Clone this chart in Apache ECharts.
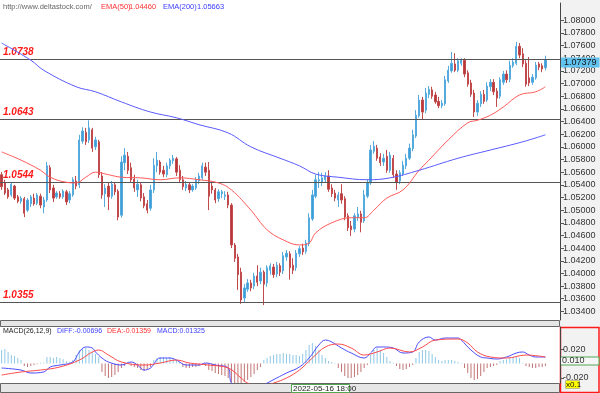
<!DOCTYPE html>
<html>
<head>
<meta charset="utf-8">
<script src="https://cdn.jsdelivr.net/npm/echarts@6/dist/echarts.min.js"></script>
<style>
html,body{margin:0;padding:0;background:#fff;}
#c{width:600px;height:393px;}
</style>
</head>
<body>
<div id="c"></div>
<script>
// ---------------- DATA ----------------
const slotCount = 173; // category slots (169 candles + empty right margin)
const opens = [
1.0556,1.0543,1.0532,1.0524,1.0538,1.0521,1.0514,1.0518,1.0500,1.0510,
1.0519,1.0511,1.0522,1.0505,1.0516,1.0567,1.0535,1.0521,1.0526,1.0521,
1.0529,1.0516,1.0524,1.0546,1.0540,1.0609,1.0623,1.0611,1.0627,1.0600,
1.0608,1.0554,1.0526,1.0538,1.0522,1.0540,1.0530,1.0492,1.0575,1.0585,
1.0567,1.0549,1.0532,1.0540,1.0521,1.0510,1.0503,1.0532,1.0570,1.0576,
1.0563,1.0556,1.0570,1.0578,1.0581,1.0563,1.0548,1.0535,1.0540,1.0532,
1.0535,1.0546,1.0551,1.0568,1.0563,1.0538,1.0532,1.0518,1.0526,1.0522,
1.0524,1.0508,1.0445,1.0426,1.0402,1.0361,1.0375,1.0385,1.0380,1.0396,
1.0388,1.0402,1.0385,1.0405,1.0410,1.0399,1.0412,1.0404,1.0426,1.0431,
1.0413,1.0409,1.0431,1.0440,1.0435,1.0447,1.0486,1.0522,1.0546,1.0544,
1.0548,1.0554,1.0535,1.0527,1.0516,1.0526,1.0518,1.0491,1.0475,1.0470,
1.0488,1.0494,1.0483,1.0522,1.0543,1.0593,1.0598,1.0584,1.0576,1.0585,
1.0563,1.0582,1.0557,1.0546,1.0557,1.0570,1.0582,1.0597,1.0617,1.0649,
1.0674,1.0658,1.0683,1.0690,1.0682,1.0672,1.0665,1.0668,1.0704,1.0720,
1.0731,1.0721,1.0732,1.0737,1.0717,1.0701,1.0685,1.0655,1.0668,1.0683,
1.0674,1.0695,1.0702,1.0688,1.0680,1.0702,1.0715,1.0707,1.0728,1.0732,
1.0759,1.0747,1.0732,1.0709,1.0702,1.0709,1.0731,1.0728,1.0725];
const closes = [
1.0537,1.0527,1.0521,1.0541,1.0519,1.0514,1.0519,1.0495,1.0516,1.0521,
1.0510,1.0524,1.0508,1.0516,1.0570,1.0532,1.0519,1.0527,1.0521,1.0530,
1.0513,1.0526,1.0548,1.0538,1.0611,1.0625,1.0608,1.0630,1.0598,1.0611,
1.0556,1.0524,1.0535,1.0521,1.0541,1.0529,1.0489,1.0576,1.0587,1.0563,
1.0548,1.0535,1.0541,1.0519,1.0507,1.0500,1.0532,1.0571,1.0579,1.0560,
1.0557,1.0570,1.0579,1.0582,1.0560,1.0548,1.0537,1.0541,1.0532,1.0538,
1.0548,1.0554,1.0570,1.0560,1.0522,1.0532,1.0516,1.0529,1.0529,1.0524,
1.0508,1.0445,1.0424,1.0398,1.0358,1.0377,1.0385,1.0377,1.0396,1.0386,
1.0402,1.0383,1.0409,1.0412,1.0398,1.0413,1.0402,1.0428,1.0432,1.0409,
1.0405,1.0432,1.0439,1.0434,1.0448,1.0488,1.0524,1.0548,1.0548,1.0551,
1.0554,1.0533,1.0526,1.0519,1.0524,1.0516,1.0489,1.0472,1.0469,1.0491,
1.0494,1.0481,1.0524,1.0544,1.0595,1.0601,1.0582,1.0575,1.0582,1.0563,
1.0587,1.0556,1.0544,1.0559,1.0571,1.0582,1.0598,1.0619,1.0650,1.0674,
1.0655,1.0685,1.0691,1.0680,1.0671,1.0665,1.0669,1.0706,1.0721,1.0732,
1.0721,1.0736,1.0737,1.0715,1.0699,1.0683,1.0655,1.0669,1.0683,1.0672,
1.0696,1.0702,1.0687,1.0677,1.0706,1.0715,1.0706,1.0729,1.0734,1.0759,
1.0745,1.0731,1.0699,1.0701,1.0710,1.0729,1.0726,1.0723,1.07379];
const lows = [
1.0532,1.0524,1.0518,1.0521,1.0516,1.0511,1.0510,1.0489,1.0497,1.0505,
1.0507,1.0508,1.0503,1.0495,1.0513,1.0527,1.0513,1.0518,1.0518,1.0518,
1.0508,1.0511,1.0521,1.0533,1.0535,1.0605,1.0603,1.0606,1.0592,1.0595,
1.0551,1.0518,1.0505,1.0500,1.0518,1.0524,1.0484,1.0488,1.0563,1.0557,
1.0543,1.0529,1.0521,1.0514,1.0503,1.0495,1.0499,1.0527,1.0560,1.0556,
1.0552,1.0552,1.0565,1.0573,1.0554,1.0543,1.0532,1.0530,1.0527,1.0529,
1.0532,1.0541,1.0548,1.0554,1.0500,1.0526,1.0511,1.0513,1.0519,1.0516,
1.0503,1.0440,1.0418,1.0374,1.0352,1.0355,1.0371,1.0372,1.0375,1.0380,
1.0383,1.0350,1.0379,1.0398,1.0393,1.0394,1.0396,1.0399,1.0420,1.0390,
1.0399,1.0404,1.0426,1.0429,1.0431,1.0443,1.0483,1.0519,1.0535,1.0538,
1.0544,1.0529,1.0521,1.0514,1.0505,1.0510,1.0484,1.0467,1.0459,1.0465,
1.0483,1.0465,1.0480,1.0519,1.0540,1.0589,1.0578,1.0570,1.0570,1.0559,
1.0559,1.0551,1.0532,1.0541,1.0554,1.0565,1.0579,1.0593,1.0614,1.0646,
1.0644,1.0653,1.0677,1.0676,1.0668,1.0661,1.0661,1.0665,1.0701,1.0717,
1.0718,1.0718,1.0728,1.0710,1.0695,1.0679,1.0647,1.0649,1.0663,1.0668,
1.0671,1.0688,1.0682,1.0663,1.0676,1.0698,1.0701,1.0702,1.0725,1.0729,
1.0740,1.0726,1.0695,1.0696,1.0698,1.0706,1.0721,1.0718,1.0721];
const highs = [
1.0560,1.0548,1.0535,1.0544,1.0540,1.0524,1.0522,1.0521,1.0519,1.0524,
1.0526,1.0527,1.0526,1.0521,1.0576,1.0571,1.0540,1.0530,1.0530,1.0533,
1.0532,1.0530,1.0552,1.0554,1.0619,1.0631,1.0630,1.0642,1.0630,1.0616,
1.0611,1.0560,1.0541,1.0543,1.0546,1.0544,1.0533,1.0585,1.0598,1.0592,
1.0575,1.0556,1.0548,1.0543,1.0527,1.0516,1.0540,1.0582,1.0592,1.0579,
1.0570,1.0575,1.0582,1.0587,1.0584,1.0571,1.0554,1.0546,1.0544,1.0541,
1.0552,1.0559,1.0575,1.0575,1.0576,1.0544,1.0535,1.0533,1.0532,1.0530,
1.0529,1.0511,1.0448,1.0431,1.0409,1.0383,1.0391,1.0390,1.0401,1.0413,
1.0409,1.0405,1.0413,1.0416,1.0415,1.0418,1.0416,1.0434,1.0437,1.0435,
1.0424,1.0437,1.0443,1.0447,1.0453,1.0495,1.0532,1.0556,1.0560,1.0559,
1.0560,1.0563,1.0541,1.0532,1.0529,1.0541,1.0522,1.0495,1.0483,1.0495,
1.0505,1.0499,1.0532,1.0549,1.0603,1.0609,1.0603,1.0590,1.0589,1.0595,
1.0592,1.0587,1.0563,1.0563,1.0578,1.0589,1.0605,1.0627,1.0658,1.0682,
1.0679,1.0693,1.0696,1.0695,1.0687,1.0679,1.0674,1.0712,1.0728,1.0750,
1.0748,1.0740,1.0740,1.0740,1.0721,1.0706,1.0690,1.0674,1.0688,1.0690,
1.0702,1.0707,1.0707,1.0693,1.0710,1.0720,1.0721,1.0736,1.0740,1.0766,
1.0764,1.0756,1.0737,1.0742,1.0715,1.0734,1.0734,1.0732,1.0744];
// EMA lines read at sample candles: [candle index, value]
const ema50Pts = [[0,1.0592],[6,1.0579],[12,1.0563],[15,1.0552],[20,1.0544],[23,1.0543],[26,1.0552],[29,1.0560],[33,1.0556],[37,1.0552],[43,1.0551],[49,1.0548],[55,1.0551],[61,1.0548],[67,1.0543],[71,1.0532],[77,1.0500],[82,1.0469],[87,1.0453],[92,1.0445],[95,1.0448],[97,1.0464],[102,1.0480],[108,1.0488],[112,1.0488],[115,1.0500],[119,1.0519],[124,1.0532],[129,1.0563],[132,1.0579],[138,1.0611],[144,1.0638],[147,1.0642],[151,1.0650],[155,1.0663],[160,1.0682],[165,1.0687],[168,1.0695]];
const ema200Pts = [[0,1.0764],[9,1.0737],[13,1.0721],[23,1.0695],[29,1.0687],[37,1.0671],[46,1.0655],[54,1.0646],[61,1.0635],[70,1.0622],[77,1.0600],[86,1.0582],[92,1.0570],[97,1.0557],[104,1.0552],[113,1.0548],[120,1.0551],[129,1.0563],[141,1.0582],[151,1.0595],[161,1.0608],[168,1.0619]];
// MACD panel
const macdHist = [
0.0186,0.020,0.0159,0.0117,0.0103,0.0076,0.0048,-0.0035,-0.0048,-0.0035,
-0.002,-0.001,0.001,0.001,0.009,0.009,0.0076,0.009,0.0076,0.006,
0.0034,0.002,0.0048,0.0117,0.0186,0.0214,0.0214,0.0186,0.0159,0.013,
0.009,-0.0117,-0.0173,-0.02,-0.0186,-0.0159,-0.0117,-0.0062,-0.0035,0.002,
-0.0035,-0.0048,-0.0062,-0.009,-0.0103,-0.0076,-0.0048,0.0048,0.0076,0.009,
0.009,0.0076,0.009,0.0076,0.0048,0.002,-0.0048,-0.0062,-0.0062,-0.0048,
-0.0048,-0.0035,-0.002,-0.0035,-0.009,-0.0103,-0.013,-0.0145,-0.0159,-0.0173,
-0.02,-0.0255,-0.028,-0.030,-0.028,-0.0255,-0.0228,-0.0186,-0.0145,-0.009,
-0.0048,0.0048,0.0076,0.0103,0.0117,0.013,0.013,0.0145,0.013,0.013,
0.0117,0.0117,0.0103,0.013,0.0186,0.0255,0.0283,0.0241,0.0186,0.0117,
0.0076,0.0034,0.002,0.0007,-0.0062,-0.0117,-0.0173,-0.02,-0.02,-0.0186,
-0.0159,-0.0117,-0.0062,-0.002,0.0117,0.0186,0.0214,0.0186,0.0145,0.009,
0.0034,0.0007,-0.0035,-0.0076,-0.009,-0.0076,-0.0048,-0.002,0.0076,0.0159,
0.0186,0.0186,0.0172,0.013,0.009,0.0048,0.0034,0.0048,0.0048,0.0048,
0.0034,0.002,0.0007,-0.0062,-0.013,-0.02,-0.0228,-0.0214,-0.0173,-0.0117,
-0.0062,-0.0048,-0.0035,-0.002,0.0034,0.0048,0.006,0.0076,0.009,0.0103,
0.0076,0.0007,-0.0035,-0.0048,-0.0062,-0.0062,-0.0048,-0.0048,-0.0035];
const diffPts = [[0,-0.0062],[6,-0.009],[9,-0.0131],[13,-0.0117],[15,-0.0048],[18,-0.0021],[22,0.0021],[24,0.0159],[26,0.0228],[28,0.0214],[29,0.0159],[31,0.0076],[33,0.0021],[37,-0.0021],[40,0.0021],[42,-0.0021],[44,-0.009],[46,-0.0062],[49,0.0076],[52,0.0076],[54,0.0048],[57,-0.0021],[61,-0.0021],[63,0.0007],[66,-0.0021],[70,-0.0062],[71,-0.027],[74,-0.034],[78,-0.036],[82,-0.027],[85,-0.02],[88,-0.0131],[92,-0.0048],[95,0.0076],[98,0.0255],[100,0.0324],[102,0.0297],[105,0.0214],[108,0.0145],[112,0.0076],[114,0.0145],[116,0.0228],[118,0.0228],[121,0.0214],[124,0.0145],[127,0.0159],[129,0.0297],[132,0.0366],[134,0.0324],[137,0.0352],[141,0.0352],[142,0.0324],[145,0.0186],[148,0.009],[150,0.0076],[153,0.0062],[156,0.009],[159,0.0145],[161,0.0159],[163,0.0117],[165,0.009],[168,0.009]];
const deaPts = [[0,-0.0159],[6,-0.0117],[12,-0.009],[18,-0.0048],[24,0.0048],[28,0.0159],[30,0.0186],[33,0.0117],[37,0.0021],[44,-0.0021],[49,0.0007],[54,0.0048],[58,0.0007],[64,-0.0021],[70,-0.0062],[74,-0.02],[76,-0.027],[80,-0.032],[84,-0.027],[88,-0.02],[92,-0.009],[96,0.0076],[100,0.0228],[104,0.0269],[108,0.0214],[112,0.0117],[116,0.0159],[120,0.0214],[126,0.0159],[130,0.0228],[134,0.0324],[141,0.0338],[144,0.0283],[147,0.0159],[151,0.009],[156,0.0076],[162,0.0117],[168,0.009]];
// levels & ticks
const levels = [1.0738, 1.0643, 1.0544, 1.0355];
const lastPrice = 1.07379;
const priceTicks = [1.034,1.036,1.038,1.040,1.042,1.044,1.046,1.048,1.050,1.052,1.054,1.056,1.058,1.060,1.062,1.064,1.066,1.068,1.070,1.072,1.074,1.076,1.078,1.080];
const macdTicks = [0.02, -0.02];

// ---------------- CHART ----------------
const categories = Array.from({length: slotCount}, (_, i) => String(i));
const candleData = opens.map((o, i) => [o, closes[i], lows[i], highs[i]]);
const chart = echarts.init(document.getElementById('c'), null, {renderer: 'canvas'});
const FF = 'Liberation Sans, Arial, sans-serif';

const levelMarks = levels.map(v => ({
  yAxis: v, name: v.toFixed(4),
  label: {show: true, position: 'insideStartTop', formatter: '{b}', color: '#ff1a1a',
          fontWeight: 'bold', fontStyle: 'italic', fontSize: 10, fontFamily: FF, distance: [3, 2]}
}));
levelMarks.push({
  yAxis: lastPrice, name: lastPrice.toFixed(5),
  lineStyle: {color: 'rgba(0,0,0,0)', width: 0},
  label: {show: true, position: 'end', formatter: '{b}', color: '#111', backgroundColor: '#62c3ef',
          padding: [1, 3, 0, 3], fontSize: 9, fontFamily: FF, distance: 1, offset: [0, 3]}
});

function txt(text, left, top, color, size) {
  return {text: text, left: left, top: top, padding: 0,
          textStyle: {fontSize: size, color: color, fontWeight: 'normal', fontFamily: FF}};
}

const option = {
  animation: false,
  backgroundColor: '#ffffff',
  title: [
    txt('http://www.deltastock.com/', 3, 3, '#666', 7.5),
    txt('EMA(50)', 101, 3, '#ff3030', 7.5),
    txt('1.04460', 129, 3, '#ff3030', 7.5),
    txt('EMA(200)', 163, 3, '#3b3bff', 7.5),
    txt('1.05663', 197, 3, '#3b3bff', 7.5),
    txt('MACD(26,12,9)', 3, 328, '#222', 7),
    txt('DIFF:-0.00696', 57, 328, '#3b3bff', 7),
    txt('DEA:-0.01359', 107, 328, '#ff3030', 7),
    txt('MACD:0.01325', 157, 328, '#3b3bff', 7)
  ],
  grid: [
    {left: 0, right: 40, top: 3, height: 317, containLabel: false},
    {left: 0, right: 40, top: 327, height: 56, containLabel: false}
  ],
  xAxis: [
    {type: 'category', gridIndex: 0, data: categories, boundaryGap: true,
     axisLine: {show: false}, axisTick: {show: false}, axisLabel: {show: false}, splitLine: {show: false}},
    {type: 'category', gridIndex: 1, data: categories, boundaryGap: true,
     axisLine: {show: false}, axisTick: {show: false}, axisLabel: {show: false}, splitLine: {show: false}}
  ],
  yAxis: [
    {type: 'value', gridIndex: 0, position: 'right', min: 1.03264, max: 1.08273, scale: true,
     axisLine: {show: true, lineStyle: {color: '#444'}},
     axisTick: {show: true, customValues: priceTicks, length: 4, lineStyle: {color: '#555'}},
     axisLabel: {show: true, customValues: priceTicks, formatter: v => v.toFixed(5), fontSize: 9, color: '#333', margin: 3, fontFamily: FF},
     splitLine: {show: false}},
    {type: 'value', gridIndex: 1, position: 'right', min: -0.0269, max: 0.0504,
     axisLine: {show: true, lineStyle: {color: '#444'}},
     axisTick: {show: true, customValues: macdTicks, length: 4, lineStyle: {color: '#555'}},
     axisLabel: {show: true, customValues: macdTicks, formatter: v => v.toFixed(3), fontSize: 9, color: '#333', margin: 3, fontFamily: FF},
     splitLine: {show: false}}
  ],
  series: [
    {type: 'candlestick', xAxisIndex: 0, yAxisIndex: 0, data: candleData, barWidth: 1.8, z: 4,
     itemStyle: {color: '#3e9fd8', color0: '#b8373a', borderColor: '#55abdd', borderColor0: '#c04a4c', borderWidth: 1}},
    {type: 'line', xAxisIndex: 0, yAxisIndex: 0, data: ema50Pts, smooth: 0.4, showSymbol: false, symbol: 'none',
     lineStyle: {color: '#ff5a5a', width: 1}, z: 5},
    {type: 'line', xAxisIndex: 0, yAxisIndex: 0, data: ema200Pts, smooth: 0.4, showSymbol: false, symbol: 'none',
     lineStyle: {color: '#5a5aff', width: 1}, z: 5,
     markLine: {symbol: ['none', 'none'], silent: true, animation: false, precision: 5,
                lineStyle: {color: '#555', width: 1.2, type: 'solid'}, data: levelMarks}},
    {type: 'bar', xAxisIndex: 1, yAxisIndex: 1, data: macdHist, barWidth: 1,
     itemStyle: {color: p => p.value >= 0 ? '#8ec7e6' : '#c27474'}},
    {type: 'line', xAxisIndex: 1, yAxisIndex: 1, data: diffPts, smooth: 0.4, showSymbol: false, symbol: 'none',
     lineStyle: {color: '#4b4bff', width: 1}, z: 3},
    {type: 'line', xAxisIndex: 1, yAxisIndex: 1, data: deaPts, smooth: 0.4, showSymbol: false, symbol: 'none',
     lineStyle: {color: '#ff4b4b', width: 1}, z: 3}
  ],
  graphic: [
    {type: 'rect', z: -10, shape: {x: 560, y: 0, width: 40, height: 327}, style: {fill: '#f2f2f2', stroke: null}},
    {type: 'rect', z: -10, shape: {x: 0.5, y: 320.5, width: 559, height: 6}, style: {fill: '#e6e6e6', stroke: '#666', lineWidth: 1}},
    {type: 'rect', z: -10, shape: {x: 0.5, y: 383.5, width: 559, height: 9}, style: {fill: '#e6e6e6', stroke: '#666', lineWidth: 1}},
    {type: 'rect', z: -10, shape: {x: 560.5, y: 327.5, width: 38.5, height: 65}, style: {fill: '#f2f2f2', stroke: '#ff1a1a', lineWidth: 1.5}},
    {type: 'group', z: 100, children: [
      {type: 'rect', shape: {x: 560.5, y: 357, width: 38.5, height: 8}, style: {fill: '#f7f7f7', stroke: '#52a852', lineWidth: 1}},
      {type: 'text', x: 562, y: 361, style: {text: '0.010', fill: '#333', font: '9px ' + FF, textVerticalAlign: 'middle'}}
    ]},
    {type: 'group', z: 100, children: [
      {type: 'rect', shape: {x: 565.5, y: 380.5, width: 14, height: 8}, style: {fill: '#ffff00', stroke: '#888', lineWidth: 0.5}},
      {type: 'text', x: 566, y: 384.5, style: {text: 'x0.1', fill: '#111', font: '8px ' + FF, textVerticalAlign: 'middle'}}
    ]},
    {type: 'group', z: 100, children: [
      {type: 'rect', shape: {x: 291.5, y: 384.5, width: 58, height: 8}, style: {fill: '#ffffff', stroke: '#52a852', lineWidth: 1}},
      {type: 'text', x: 293, y: 389, style: {text: '2022-05-16 18:00', fill: '#222', font: '8px ' + FF, textVerticalAlign: 'middle'}}
    ]}
  ]
};
chart.setOption(option);
</script>
</body>
</html>
